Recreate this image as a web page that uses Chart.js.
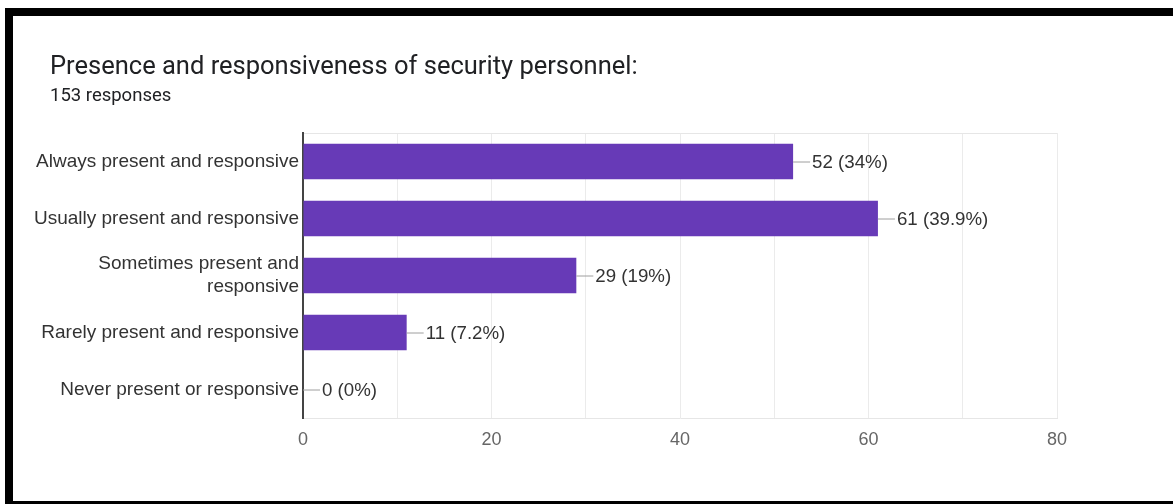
<!DOCTYPE html>
<html>
<head>
<meta charset="utf-8">
<script src="https://cdn.jsdelivr.net/npm/chart.js@4.4.1/dist/chart.umd.min.js"></script>
<style>
  html, body { margin: 0; padding: 0; background: #fff; }
  #wrap { position: relative; width: 1173px; height: 504px; overflow: hidden; background: #fff; }
  .bar { position: absolute; background: #000; }
  #title { position: absolute; left: 50px; top: 50px; font: 25.5px Roboto, sans-serif; color: #202124; white-space: nowrap; }
  #subtitle { position: absolute; left: 50px; top: 84px; font: 18.5px Roboto, sans-serif; color: #202124; white-space: nowrap; }
  #box { position: absolute; left: 0; top: 0; width: 1173px; height: 504px; }
</style>
</head>
<body>
<div id="wrap">
  <div id="box"><canvas id="chart"></canvas></div>
  <div class="bar" style="left:5px; top:8px; width:1168px; height:8px;"></div>
  <div class="bar" style="left:5px; top:8px; width:8px; height:496px;"></div>
  <div class="bar" style="left:5px; top:501px; width:1168px; height:3px;"></div>
  <div id="title">Presence and responsiveness of security personnel:</div>
  <div id="subtitle">153 responses</div>
</div>
<script>
//chart data
const categories = [
  'Always present and responsive',
  'Usually present and responsive',
  ['Sometimes present and', 'responsive'],
  'Rarely present and responsive',
  'Never present or responsive'
];
const counts = [52, 61, 29, 11, 0];
const percents = ['34%', '39.9%', '19%', '7.2%', '0%'];
const xTicks = [0, 20, 40, 60, 80];

const labelFont = '"Liberation Sans", Arial, sans-serif';

//draws the "—52 (34%)" labels next to each bar
const barLabels = {
  id: 'barLabels',
  afterDatasetsDraw(chart) {
    const ctx = chart.ctx;
    const meta = chart.getDatasetMeta(0);
    ctx.save();
    ctx.font = '18.7px ' + labelFont;
    ctx.textBaseline = 'middle';
    ctx.textAlign = 'left';
    meta.data.forEach((bar, i) => {
      const x = bar.x, y = bar.y;
      ctx.strokeStyle = '#9e9e9e';
      ctx.lineWidth = 1;
      ctx.beginPath();
      ctx.moveTo(x, y + 0.5);
      ctx.lineTo(x + 17, y + 0.5);
      ctx.stroke();
      ctx.fillStyle = '#333';
      ctx.fillText(counts[i] + ' (' + percents[i] + ')', x + 19, y + 1);
    });
    ctx.restore();
  }
};

const chart = new Chart(document.getElementById('chart').getContext('2d'), {
  type: 'bar',
  data: {
    labels: categories,
    datasets: [{
      data: counts,
      backgroundColor: '#673ab7',
      borderWidth: 0,
      categoryPercentage: 0.62,
      barPercentage: 1
    }]
  },
  plugins: [barLabels],
  options: {
    indexAxis: 'y',
    responsive: true,
    maintainAspectRatio: false,
    animation: false,
    layout: { padding: { left: 20, top: 133, right: 116, bottom: 0 } },
    plugins: { legend: { display: false }, tooltip: { enabled: false } },
    scales: {
      x: {
        min: 0, max: 80,
        afterFit: s => { s.height = 86; },
        border: { display: true, color: '#e6e6e6' },
        grid: { color: '#ebebeb', drawTicks: false },
        ticks: {
          stepSize: 10,
          padding: 11,
          maxRotation: 0,
          autoSkip: false,
          color: '#666',
          font: { family: labelFont, size: 18 },
          callback: v => xTicks.includes(v) ? v : ''
        }
      },
      y: {
        afterFit: s => { s.width = 283; },
        border: { display: true, color: '#444', width: 2 },
        grid: {
          drawTicks: false,
          color: c => c.index === 0 ? '#e6e6e6' : 'rgba(0,0,0,0)'
        },
        ticks: {
          padding: 4,
          color: '#333',
          font: { family: labelFont, size: 19, lineHeight: 1.2 }
        }
      }
    }
  }
});
</script>
</body>
</html>
